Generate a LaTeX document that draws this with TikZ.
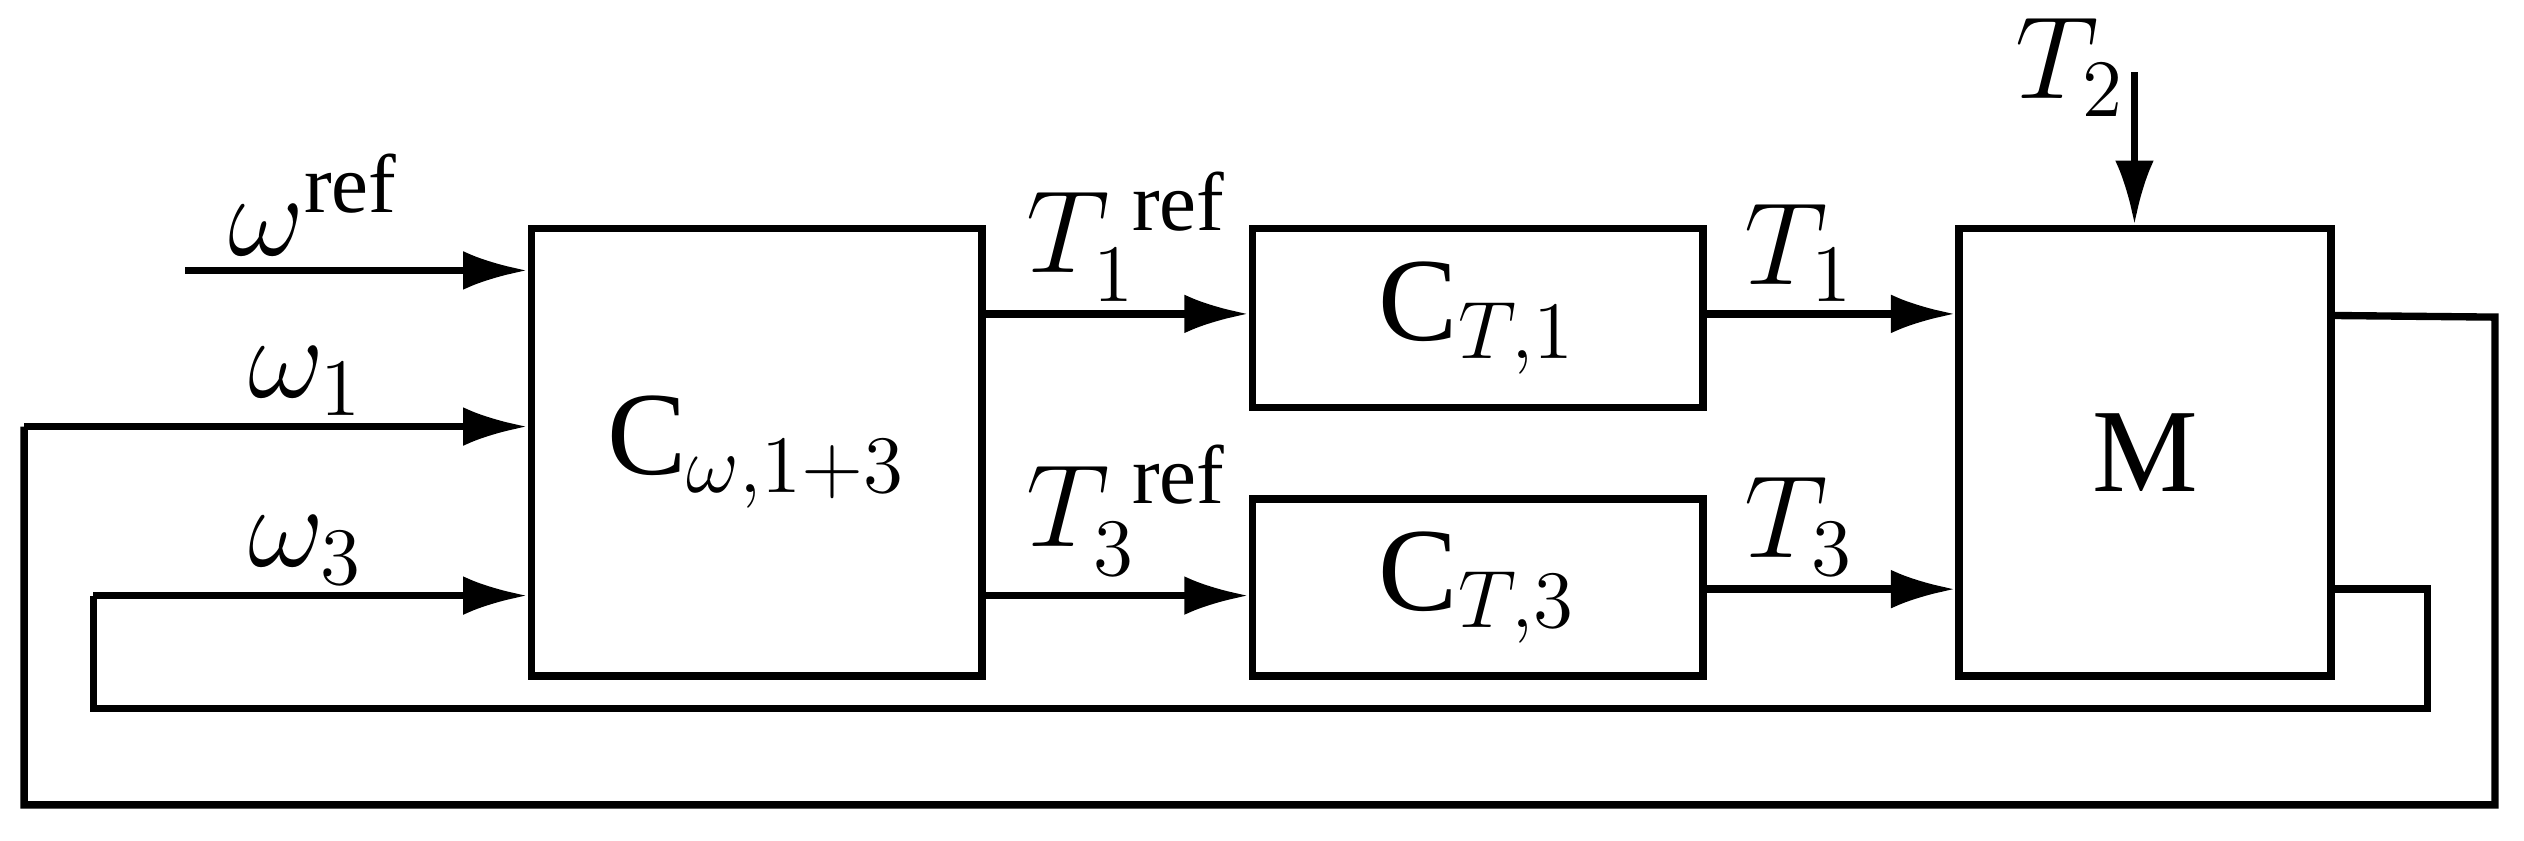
\documentclass[tikz,border=0pt]{standalone}
\usepackage{fontspec}
\setmainfont{Liberation Serif}
\usetikzlibrary{arrows.meta,calc}
\tikzset{blk/.style={draw,line width=1.3pt,inner sep=0pt},
  sig/.style={line width=1.3pt,-{Latex[length=0.40cm,width=0.24cm]}},
  wire/.style={line width=1.3pt},
  lbl/.style={font=\fontsize{21}{24}\selectfont}}
\begin{document}
\begin{tikzpicture}[x=1cm,y=1cm]
\useasboundingbox (0,0) rectangle (15.68,5.22);
% blocks
\node[blk,minimum width=2.8cm,minimum height=2.78cm,lbl] (cw) at (4.70,2.41) {C$_{\omega,1+3}$};
\node[blk,minimum width=2.8cm,minimum height=1.11cm,lbl] (ct1) at (9.18,3.245) {C$_{T,1}$};
\node[blk,minimum width=2.8cm,minimum height=1.10cm,lbl] (ct3) at (9.18,1.57) {C$_{T,3}$};
\node[blk,minimum width=2.31cm,minimum height=2.78cm,lbl] (m) at (13.325,2.41) {M};
% free ends
\coordinate (wref) at (1.15,3.54);
\coordinate (t2) at (13.26,4.77);
% inputs
\draw[sig] (wref) -- (wref -| cw.west);
\draw[sig] (0.15,2.57) -- ($(cw.west)+(0,0.16)$);
\draw[sig] (0.58,1.52) -- ($(cw.west)+(0,-0.89)$);
\draw[sig] ($(cw.east)+(0,0.86)$) -- (ct1.west |- 0,3.27);
\draw[sig] ($(cw.east)+(0,-0.89)$) -- ($(ct3.west)+(0,-0.05)$);
\draw[sig] (ct1.east |- 0,3.27) -- (m.west |- 0,3.27);
\draw[sig] (ct3.east |- 0,1.56) -- (m.west |- 0,1.56);
\draw[sig] (t2) -- (t2 |- m.north);
% feedback
\draw[wire] (m.east |- 0,3.26) -- (15.50,3.25) -- (15.50,0.22) -- (0.15,0.22) -- (0.15,2.57);
\draw[wire] (m.east |- 0,1.56) -- (15.08,1.56) -- (15.08,0.82) -- (0.58,0.82) -- (0.58,1.52);
% labels
\node[lbl] (lwref) at (1.95,3.95) {$\omega^{\mathrm{ref}}$};
\node[lbl] (lw1) at (1.90,2.85) {$\omega_1$};
\node[lbl] (lw3) at (1.90,1.80) {$\omega_3$};
\node[lbl] (lt1r) at (7.00,3.75) {$T_1^{\;\mathrm{ref}}$};
\node[lbl] (lt3r) at (7.00,2.05) {$T_3^{\;\mathrm{ref}}$};
\node[lbl] (lt1) at (11.18,3.65) {$T_1$};
\node[lbl] (lt3) at (11.18,1.95) {$T_3$};
\node[lbl] (lt2) at (12.86,4.80) {$T_2$};
\end{tikzpicture}
\end{document}
